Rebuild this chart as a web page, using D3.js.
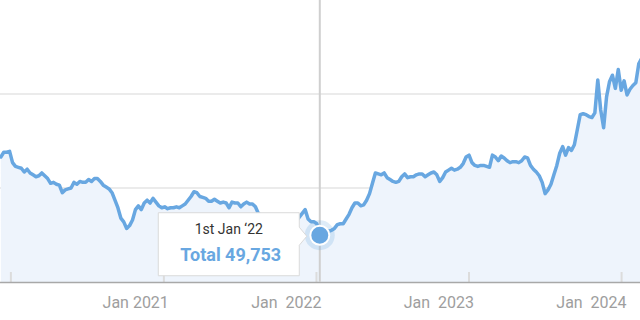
<!DOCTYPE html>
<html>
<head>
<meta charset="utf-8">
<script src="https://cdn.jsdelivr.net/npm/d3@7"></script>
<style>
  html, body { margin: 0; padding: 0; background: #fff; }
  svg { display: block; font-family: Roboto, "Noto Sans", sans-serif; }
</style>
</head>
<body>
<div id="chart"></div>
<script>
// weekly totals (in thousands), first week starting 8 Dec 2019
var startDate = new Date(2019, 11, 8);
var totalK = [
  133, 138, 138, 139, 127, 123, 122, 121, 117, 120,
  116, 114, 112, 113, 116, 113, 110, 105, 106, 104,
  103, 95, 98, 99, 100, 106, 104, 107, 106, 106,
  109, 107, 110, 110, 107, 103, 101, 99, 95, 87,
  79, 68, 64, 57, 60, 66, 77, 81, 77, 84,
  87, 84, 89, 85, 81, 79, 80, 78, 79, 79,
  80, 79, 81, 83, 87, 91, 96, 95, 91, 90,
  89, 86, 86, 88, 86, 84, 85, 84, 79, 85,
  84, 84, 80, 83, 85, 83, 83, 80, 73, 71,
  68, 68, 66, 65, 64, 63, 62, 61, 62, 63,
  64, 65, 69, 73, 77, 67, 64, 64, 62, 49.753,
  52, 53, 54, 55, 57, 61, 62, 62, 67, 72,
  79, 84, 84, 81, 82, 87, 94, 105, 116, 115,
  114, 116, 111, 109, 107, 106, 107, 112, 115, 111,
  112, 112, 114, 115, 115, 112, 114, 116, 117, 114,
  107, 111, 117, 119, 121, 119, 120, 122, 126, 133,
  135, 127, 124, 123, 124, 124, 123, 122, 135, 133,
  129, 134, 132, 129, 127, 128, 128, 127, 129, 133,
  132, 124, 120, 117, 113, 106, 94, 98, 104, 114,
  124, 137, 144, 135, 143, 140, 146, 162, 178, 179,
  178, 176, 175, 180, 215, 183, 164, 197, 213, 220,
  206, 226, 204, 214, 199, 205, 209, 212, 232, 238
];
var yTicks = [100000, 200000];
var xTickDates = [new Date(2020, 0, 1), new Date(2021, 0, 1), new Date(2022, 0, 1), new Date(2023, 0, 1), new Date(2024, 0, 1)];
var xLabels = ["", "Jan 2021", "Jan  2022", "Jan  2023", "Jan  2024"];
var hoverIndex = 109;
var hoverLabel = "1st Jan \u201822";
var hoverSeries = "Total";

var data = totalK.map(function(v, i) {
    return { date: d3.timeDay.offset(startDate, i * 7), value: v * 1000 };
});

var width = 640, height = 320;
var plotBottom = 282;
var lineColor = "#68a7e1";

var svg = d3.select("#chart").append("svg")
    .attr("width", width)
    .attr("height", height);

var x = d3.scaleTime()
    .domain([new Date(2019, 11, 6), new Date(2024, 1, 14)])
    .range([0, width]);

var y = d3.scaleLinear()
    .domain([0, 300000])
    .range([plotBottom, 0]);

svg.append("defs").append("clipPath").attr("id", "clip")
    .append("rect").attr("x", 0).attr("y", 0).attr("width", width).attr("height", plotBottom);

// gridlines
svg.append("g")
    .selectAll("line")
    .data(yTicks)
    .enter().append("line")
    .attr("x1", 0).attr("x2", width)
    .attr("y1", function(d) { return y(d); })
    .attr("y2", function(d) { return y(d); })
    .attr("stroke", "#e4e4e4")
    .attr("stroke-width", 1.5);

var area = d3.area()
    .x(function(d) { return x(d.date); })
    .y0(y(0))
    .y1(function(d) { return y(d.value); });

var line = d3.line()
    .x(function(d) { return x(d.date); })
    .y(function(d) { return y(d.value); });

var g = svg.append("g").attr("clip-path", "url(#clip)");

g.append("path")
    .datum(data)
    .attr("fill", "#eef4fc")
    .attr("d", area);

// x ticks inside plot
svg.append("g")
    .selectAll("line")
    .data(xTickDates)
    .enter().append("line")
    .attr("x1", function(d) { return x(d); })
    .attr("x2", function(d) { return x(d); })
    .attr("y1", plotBottom - 10)
    .attr("y2", plotBottom)
    .attr("stroke", "#dcdcdc")
    .attr("stroke-width", 2);

g.append("path")
    .datum(data)
    .attr("fill", "none")
    .attr("stroke", lineColor)
    .attr("stroke-width", 3.5)
    .attr("stroke-linejoin", "round")
    .attr("stroke-linecap", "round")
    .attr("d", line);

// baseline
svg.append("line")
    .attr("x1", 0).attr("x2", width)
    .attr("y1", plotBottom + 0.5).attr("y2", plotBottom + 0.5)
    .attr("stroke", "#a8a8a8")
    .attr("stroke-width", 1.5);

// x labels
svg.append("g")
    .selectAll("text")
    .data(xTickDates)
    .enter().append("text")
    .attr("x", function(d) { return x(d) + 5; })
    .attr("y", 308)
    .attr("text-anchor", "end")
    .attr("fill", "#9e9e9e")
    .attr("font-size", 16)
    .style("white-space", "pre")
    .text(function(d, i) { return xLabels[i]; });

// hover crosshair
var hp = data[hoverIndex];
var hx = x(hp.date), hy = y(hp.value);

svg.append("line")
    .attr("x1", hx).attr("x2", hx)
    .attr("y1", 0).attr("y2", plotBottom)
    .attr("stroke", "#cfcfcf")
    .attr("stroke-width", 2);

svg.append("circle")
    .attr("cx", hx).attr("cy", hy).attr("r", 15)
    .attr("fill", lineColor).attr("fill-opacity", 0.22);

svg.append("circle")
    .attr("cx", hx).attr("cy", hy).attr("r", 9.5)
    .attr("fill", lineColor)
    .attr("stroke", "#fff").attr("stroke-width", 2);

// tooltip
var tipW = 142, tipH = 64;
var tipX = hx - 162, tipY = hy - 23;
var tip = svg.append("g").attr("transform", "translate(" + tipX + "," + tipY + ")");

tip.append("path")
    .attr("d", "M0.5,0.5H" + (tipW - 0.5) + "V15L" + (tipW + 7) + ",24L" + (tipW - 0.5) + ",33V" + (tipH - 0.5) + "H0.5Z")
    .attr("fill", "#fff")
    .attr("stroke", "#dadada")
    .attr("stroke-width", 1);

tip.append("text")
    .attr("x", tipW / 2)
    .attr("y", 21.5)
    .attr("text-anchor", "middle")
    .attr("fill", "#333")
    .attr("font-size", 14)
    .text(hoverLabel);

tip.append("text")
    .attr("x", tipW / 2 + 2)
    .attr("y", 48.5)
    .attr("text-anchor", "middle")
    .attr("fill", lineColor)
    .attr("font-size", 18)
    .attr("font-weight", "bold")
    .text(hoverSeries + " " + d3.format(",")(Math.round(hp.value)));
</script>
</body>
</html>
